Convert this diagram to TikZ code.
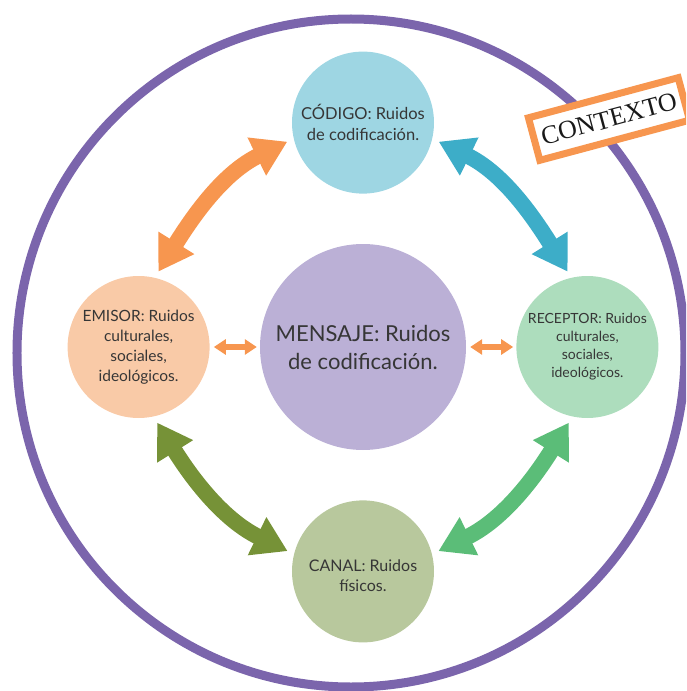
\documentclass[tikz,border=0pt]{standalone}
\usepackage{fontspec}
\setmainfont{Lato}
\newfontfamily\ctxfont{Liberation Serif}
\usetikzlibrary{positioning, arrows.meta}
\definecolor{morado}{HTML}{7B65AC}
\definecolor{celeste}{HTML}{9ED6E3}
\definecolor{lila}{HTML}{BBB0D6}
\definecolor{durazno}{HTML}{F9CAA7}
\definecolor{menta}{HTML}{ADDDBD}
\definecolor{salvia}{HTML}{B8C89D}
\definecolor{naranja}{HTML}{F7964F}
\definecolor{turquesa}{HTML}{3DADC8}
\definecolor{oliva}{HTML}{769237}
\definecolor{verde}{HTML}{5BBD78}
\definecolor{texto}{HTML}{363636}
\tikzset{
anillo/.style={draw=morado, line width=9pt}, % the big ring around everything
circulo/.style={circle, inner sep=0pt, minimum size=142pt, align=center, text=texto, font=\fontsize{15.5}{20}\selectfont}, % the round boxes
contexto/.style={draw=naranja, line width=7pt, fill=white, minimum width=155pt, minimum height=44pt, text=black!90, font=\ctxfont\fontsize{26}{26}\selectfont}, % the tilted label
flecha/.style={<->, >={Triangle[length=34pt, width=40pt]}, line width=16pt, shorten <=7pt, shorten >=7pt}, % thick curved arrows
flechita/.style={<->, >={Triangle[length=12pt, width=15pt]}, line width=6pt, naranja, shorten <=4pt, shorten >=3pt}, % small arrows to the middle
}

\begin{document}
\begin{tikzpicture}[x=1pt, y=1pt, node distance=50pt]
    \clip (-363,-344) rectangle (323,347);
    \draw[anillo] (-12,-6) circle[radius=334pt];
    \node[circulo, fill=lila, minimum size=206pt, font=\fontsize{22}{28}\selectfont] (mensaje) {MENSAJE: Ruidos\\de codificación.};
    \node[circulo, fill=celeste, above=of mensaje, font=\fontsize{16.5}{21.5}\selectfont] (codigo) {CÓDIGO: Ruidos\\de codificación.};
    \node[circulo, fill=durazno, left=of mensaje] (emisor) {EMISOR: Ruidos\\culturales,\\sociales,\\ideológicos.};
    \node[circulo, fill=menta, right=of mensaje, font=\fontsize{14}{18}\selectfont] (receptor) {RECEPTOR: Ruidos\\culturales,\\sociales,\\ideológicos.};
    \node[circulo, fill=salvia, below=of mensaje, font=\fontsize{16}{20}\selectfont] (canal) {\mbox{}\\CANAL: Ruidos\\físicos.};
    \node[contexto, rotate=15] (ctx) at (246,228) {CONTEXTO};
    \draw
    (codigo.193) edge[flecha, naranja, out=206, in=58] (emisor.77)
    (codigo.347) edge[flecha, turquesa, out=334, in=122] (receptor.103)
    (canal.14) edge[flecha, verde, out=26, in=238] (receptor.258)
    (canal.166) edge[flecha, oliva, out=154, in=302] (emisor.282)
    (emisor.east) edge[flechita] (mensaje.west)
    (mensaje.east) edge[flechita] (receptor.west);
\end{tikzpicture}
\end{document}
